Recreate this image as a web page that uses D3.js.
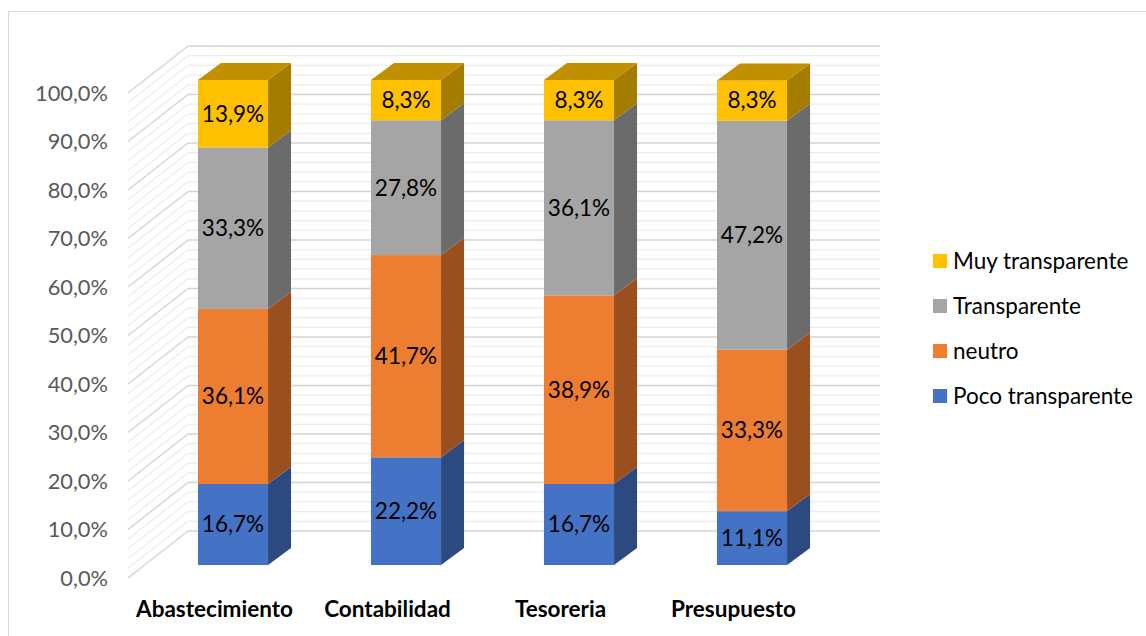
<!DOCTYPE html>
<html>
<head>
<meta charset="utf-8">
<script src="https://cdn.jsdelivr.net/npm/d3@7"></script>
<style>
  body { margin: 0; background: #fff; }
  text { font-family: Lato, "Open Sans", sans-serif; }
</style>
</head>
<body>
<div id="chart"></div>
<script>
// Data
const categories = ["Abastecimiento", "Contabilidad", "Tesoreria", "Presupuesto"];
const seriesNames = ["Poco transparente", "neutro", "Transparente", "Muy transparente"];
const pocoValues = [16.7, 22.2, 16.7, 11.1];
const neutroValues = [36.1, 41.7, 38.9, 33.3];
const transValues = [33.3, 27.8, 36.1, 47.2];
const muyValues = [13.9, 8.3, 8.3, 8.3];
const yTicks = [0, 10, 20, 30, 40, 50, 60, 70, 80, 90, 100];

const frontColors = ["#4472C4", "#ED7D31", "#A5A5A5", "#FFC000"];
const sideColors = ["#2C4A80", "#9A4F1E", "#6B6B6B", "#A47C00"];
const topColors = ["#34589A", "#B85F24", "#808080", "#C09000"];

const W = 1146, H = 636;

// 3D geometry: front plane of the axes + depth vector
const depth = { x: 60, y: -47 };
const barOffset = { x: 18.5, y: -13 };
const barDepth = { x: 23, y: -17 };

const x = d3.scaleBand().domain(categories).range([128, 820])
	.paddingInner(0.595).paddingOuter(0.2975);
const xCat = d3.scaleBand().domain(categories).range([128, 820]);
const y = d3.scaleLinear().domain([0, 100]).range([578, 93]);

const svg = d3.select("#chart").append("svg")
	.attr("width", W).attr("height", H);

svg.append("rect").attr("width", W).attr("height", H).attr("fill", "#fff");
// chart border
svg.append("rect")
	.attr("x", 8.5).attr("y", 11.5)
	.attr("width", 1200).attr("height", 700)
	.attr("fill", "none").attr("stroke", "#d9d9d9");

// gridlines (minor every 2%, major every 10%)
const gridVals = d3.range(0, 101, 2);
const backX0 = 128 + depth.x, backX1 = 820 + depth.x;
const grid = svg.append("g");
gridVals.forEach((v) => {
	const major = v % 10 === 0;
	const col = major ? "#d4d4d4" : "#ececec";
	const sw = major ? 1.4 : 1.2;
	grid.append("line")
		.attr("x1", 128).attr("y1", y(v))
		.attr("x2", backX0).attr("y2", y(v) + depth.y)
		.attr("stroke", col).attr("stroke-width", sw);
	grid.append("line")
		.attr("x1", backX0).attr("y1", y(v) + depth.y)
		.attr("x2", backX1).attr("y2", y(v) + depth.y)
		.attr("stroke", col).attr("stroke-width", sw);
});

// y axis labels
const fmt = (v) => v.toFixed(1).replace(".", ",") + "%";
svg.append("g").selectAll("text")
	.data(yTicks).enter().append("text")
	.attr("x", 108).attr("y", (d) => y(d))
	.attr("dy", "0.35em")
	.attr("text-anchor", "end")
	.attr("font-size", 21.8)
	.attr("fill", "#595959")
	.text((d) => fmt(d));

// stacked data
const rows = categories.map((c, i) => ({
	cat: c,
	vals: [pocoValues[i], neutroValues[i], transValues[i], muyValues[i]]
}));

const pts = (arr) => arr.map((p) => p.join(",")).join(" ");

const bars = svg.append("g");
rows.forEach((r) => {
	const xl = x(r.cat) + barOffset.x;
	const xr = xl + x.bandwidth();
	let cum = 0;
	r.vals.forEach((v, s) => {
		const yb = y(cum) + barOffset.y;
		const yt = y(cum + v) + barOffset.y;
		cum += v;
		// front face
		bars.append("rect")
			.attr("x", xl).attr("y", yt)
			.attr("width", xr - xl).attr("height", yb - yt)
			.attr("fill", frontColors[s]);
		// side face
		bars.append("polygon")
			.attr("points", pts([[xr, yb], [xr + barDepth.x, yb + barDepth.y],
				[xr + barDepth.x, yt + barDepth.y], [xr, yt]]))
			.attr("fill", sideColors[s]);
		// top face for the last segment
		if (s === r.vals.length - 1) {
			bars.append("polygon")
				.attr("points", pts([[xl, yt], [xr, yt],
					[xr + barDepth.x, yt + barDepth.y], [xl + barDepth.x, yt + barDepth.y]]))
				.attr("fill", topColors[s]);
		}
		// data label
		bars.append("text")
			.attr("x", (xl + xr) / 2).attr("y", (yb + yt) / 2)
			.attr("dy", "0.35em")
			.attr("text-anchor", "middle")
			.attr("font-size", 22.5)
			.attr("fill", "#000")
			.text(v.toFixed(1).replace(".", ",") + "%");
	});
});

// category labels
svg.append("g").selectAll("text")
	.data(categories).enter().append("text")
	.attr("x", (d) => xCat(d) + xCat.bandwidth() / 2)
	.attr("y", 617)
	.attr("text-anchor", "middle")
	.attr("font-size", 22.5)
	.attr("font-weight", "bold")
	.attr("fill", "#000")
	.text((d) => d);

// legend (top to bottom: reverse series order)
const legendOrder = [3, 2, 1, 0];
const legend = svg.append("g");
legendOrder.forEach((s, i) => {
	const cy = 261 + i * 45;
	legend.append("rect")
		.attr("x", 933).attr("y", cy - 7)
		.attr("width", 14).attr("height", 14)
		.attr("fill", frontColors[s]);
	legend.append("text")
		.attr("x", 953).attr("y", cy)
		.attr("dy", "0.35em")
		.attr("font-size", 22.5)
		.attr("fill", "#000")
		.text(seriesNames[s]);
});
</script>
</body>
</html>
